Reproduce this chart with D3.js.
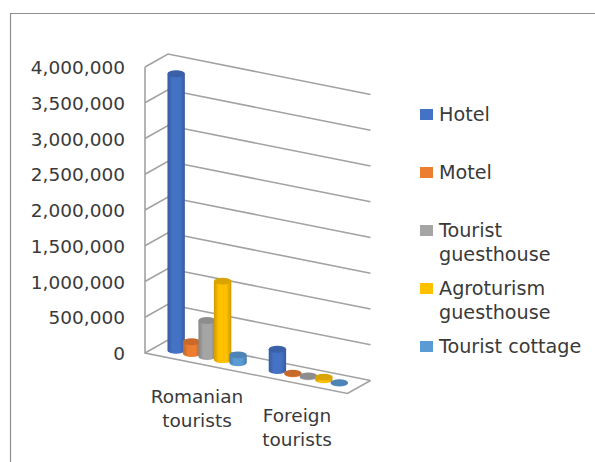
<!DOCTYPE html>
<html>
<head>
<meta charset="utf-8">
<script src="https://cdn.jsdelivr.net/npm/d3@7"></script>
<style>
  html, body { margin: 0; padding: 0; background: #fff; }
  svg { display: block; }
  text { font-family: "DejaVu Sans", sans-serif; fill: #3a3a3a; }
</style>
</head>
<body>
<svg id="chart" width="595" height="462"></svg>
<script>
// Tourist arrivals by accommodation type
const categories = ["Romanian tourists", "Foreign tourists"];
const seriesNames = ["Hotel", "Motel", "Tourist guesthouse", "Agroturism guesthouse", "Tourist cottage"];
const seriesColors = ["#4472C4", "#ED7D31", "#A5A5A5", "#FFC000", "#5B9BD5"];
const hotel = [3870000, 300000];
const motel = [165000, 8000];
const touristGuesthouse = [505000, 15000];
const agroturismGuesthouse = [1100000, 40000];
const touristCottage = [110000, 5000];
const seriesValues = [hotel, motel, touristGuesthouse, agroturismGuesthouse, touristCottage];
const yTicks = [0, 500000, 1000000, 1500000, 2000000, 2500000, 3000000, 3500000, 4000000];

const svg = d3.select("#chart");
const defs = svg.append("defs");

// Oblique projection: the floor runs right and down, depth runs right and up
const floorSlope = 0.2;
const depth = { dx: 23, dy: -13 };
const frontLeft = 145, frontRight = 347.5;

const y = d3.scaleLinear().domain([0, 4000000]).range([353, 67]);
const rise = v => y(0) - y(v);
const floorY = x => y(0) + (x - frontLeft) * floorSlope;

// Bars stand on the middle of the floor's depth
const x0 = d3.scaleBand().domain(categories)
  .range([frontLeft + depth.dx / 2, frontRight + depth.dx / 2]);
const x1 = d3.scaleBand().domain(seriesNames)
  .range([0, x0.bandwidth()]).paddingInner(0).paddingOuter(0.77);
const baseY = x => floorY(x - depth.dx / 2) + depth.dy / 2;

// Frame of the chart area
svg.append("path")
  .attr("d", "M10.5,462V13.5H595")
  .attr("fill", "none").attr("stroke", "#8f8f8f").attr("stroke-width", 1.2);

// Walls and gridlines
const wallColor = "#a2a2a2";
const grid = svg.append("g").attr("fill", "none").attr("stroke", wallColor).attr("stroke-width", 1.6);
const run = frontRight - frontLeft;
grid.selectAll("path.gridline").data(yTicks).join("path")
  .attr("class", "gridline")
  .attr("d", v => {
    const p = d3.path();
    p.moveTo(frontLeft, y(v));
    p.lineTo(frontLeft + depth.dx, y(v) + depth.dy);
    p.lineTo(frontRight + depth.dx, y(v) + depth.dy + run * floorSlope);
    return p.toString();
  });
grid.append("path").attr("d", () => {
  const p = d3.path();
  p.moveTo(frontLeft, y(4000000));
  p.lineTo(frontLeft, y(0));
  p.lineTo(frontRight, y(0) + run * floorSlope);
  p.lineTo(frontRight + depth.dx, y(0) + run * floorSlope + depth.dy);
  return p.toString();
});

// Value axis labels
const fmt = d3.format(",");
svg.append("g").selectAll("text").data(yTicks).join("text")
  .attr("x", 125).attr("y", v => y(v) + 7)
  .attr("text-anchor", "end").attr("font-size", 18.5)
  .text(v => fmt(v));

// One horizontal shading ramp per series, darker towards the edges
seriesColors.forEach((c, i) => {
  const dark = d3.color(c).darker(0.6).formatHex();
  const g = defs.append("linearGradient").attr("id", "cyl" + i);
  g.append("stop").attr("offset", "0%").attr("stop-color", dark);
  g.append("stop").attr("offset", "28%").attr("stop-color", c);
  g.append("stop").attr("offset", "72%").attr("stop-color", c);
  g.append("stop").attr("offset", "100%").attr("stop-color", dark);
});

// Cylinders
const rx = 8.7, ry = 3.4;
const barData = categories.flatMap((cat, c) =>
  seriesNames.map((name, s) => ({ cat, name, s, value: seriesValues[s][c] })));
const bars = svg.append("g").selectAll("g").data(barData).join("g");
const cx = d => x0(d.cat) + x1(d.name) + x1.bandwidth() / 2;
bars.append("path")
  .attr("fill", d => `url(#cyl${d.s})`)
  .attr("d", d => {
    const b = baseY(cx(d)), t = b - rise(d.value), c = cx(d);
    return `M${c - rx},${t}V${b}A${rx},${ry} 0 0 0 ${c + rx},${b}V${t}Z`;
  });
bars.append("ellipse")
  .attr("cx", cx)
  .attr("cy", d => baseY(cx(d)) - rise(d.value))
  .attr("rx", rx).attr("ry", ry)
  .attr("fill", d => d3.color(seriesColors[d.s]).darker(0.45).formatHex());

// Category labels, wrapped on two lines
const catX = [197, 297], catY = [403, 422];
svg.append("g").selectAll("text").data(categories).join("text")
  .attr("text-anchor", "middle").attr("font-size", 18.5)
  .each(function (d, i) {
    d3.select(this).selectAll("tspan").data(d.split(" ")).join("tspan")
      .attr("x", catX[i]).attr("y", (w, j) => catY[i] + j * 23.5).text(w => w);
  });

// Legend
const legendLines = [["Hotel"], ["Motel"], ["Tourist", "guesthouse"], ["Agroturism", "guesthouse"], ["Tourist cottage"]];
const legendY = [120, 178, 236, 294, 352];
const legend = svg.append("g").selectAll("g").data(seriesNames).join("g");
legend.append("rect")
  .attr("x", 420).attr("y", (d, i) => legendY[i] - 11)
  .attr("width", 13).attr("height", 11)
  .attr("fill", (d, i) => seriesColors[i]);
legend.append("text").attr("font-size", 19.2)
  .each(function (d, i) {
    d3.select(this).selectAll("tspan").data(legendLines[i]).join("tspan")
      .attr("x", 439).attr("y", (w, j) => legendY[i] + 1 + j * 23.5).text(w => w);
  });
</script>
</body>
</html>
